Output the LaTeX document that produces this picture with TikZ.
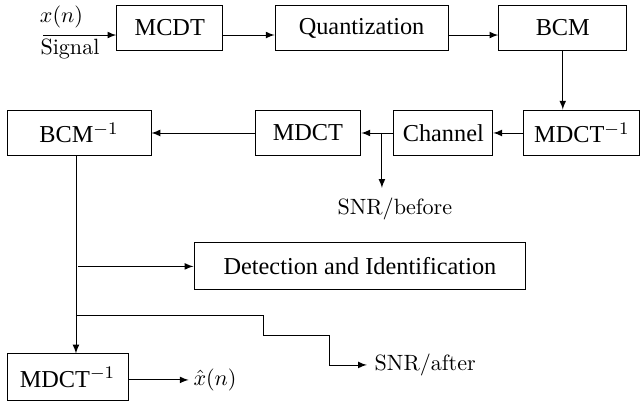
\documentclass[tikz,border=0pt]{standalone}
\usepackage{amsmath}
\usepackage{fontspec}
\newfontfamily\blocfont{Liberation Serif}
\usepackage{tikz}
\usetikzlibrary{arrows,shapes}

\begin{document}
\begin{tikzpicture}[scale=1,
	bloc/.style={rectangle,draw,minimum height=0.73cm,inner sep=0pt,
		font=\blocfont\fontsize{11}{13}\selectfont}]
	\useasboundingbox (0,0) rectangle (10.21,-6.47);
	
	% premiere ligne
	\coordinate (entree) at (0.684,-0.557);
	\node (xn) at (0.978,-0.27) {$x(n)$};
	\node (signal) at (1.113,-0.78) {Signal};
	\node[bloc,minimum width=1.685cm] (mcdt)
	at (2.70,-0.445) {MCDT};
	\node[bloc,minimum width=2.75cm] (quant)
	at (5.75,-0.445) {Quantization};
	\node[bloc,minimum width=2.035cm] (bcm)
	at (8.95,-0.445) {BCM};
	
	% deuxieme ligne
	\node[bloc,minimum width=1.844cm] (imdct1)
	at (9.254,-2.115) {MDCT$^{-1}$};
	\node[bloc,minimum width=1.574cm] (canal)
	at (7.05,-2.115) {Channel};
	\node[bloc,minimum width=1.685cm] (mdct)
	at (4.897,-2.115) {MDCT};
	\node[bloc,minimum width=2.29cm] (ibcm)
	at (1.256,-2.115) {BCM$^{-1}$};
	
	\coordinate (piquage1) at (6.074,-2.115);
	\coordinate (fin1) at (6.074,-2.989);
	\node (snravant) at (6.28,-3.32) {$\mathrm{SNR}/\mathrm{before}$};
	
	% detection et sortie
	\node[bloc,minimum width=5.279cm,minimum height=0.747cm] (detect)
	at (5.724,-4.237) {Detection and Identification};
	\node[bloc,minimum width=1.924cm,minimum height=0.747cm] (imdct2)
	at (1.073,-6.002) {MDCT$^{-1}$};
	\node[anchor=west,inner sep=2pt] (xchap) at (3.0,-6.042) {$\hat{x}(n)$};
	
	\coordinate (haut) at (1.208,-2.48);
	\coordinate (piquage2) at (1.240,-4.237);
	\coordinate (piquage3) at (1.208,-5.024);
	\coordinate (coude1) at (4.182,-5.024);
	\coordinate (coude2) at (4.182,-5.327);
	\coordinate (coude3) at (5.247,-5.327);
	\coordinate (coude4) at (5.247,-5.804);
	\node[anchor=west] (snrapres) at (5.835,-5.804) {$\mathrm{SNR}/\mathrm{after}$};
	
	\path[arrows={-latex}] (entree) edge ([yshift=-0.112cm]mcdt.west);
	\path[arrows={-latex}] ([yshift=-0.112cm]mcdt.east) edge ([yshift=-0.112cm]quant.west);
	\path[arrows={-latex}] ([yshift=-0.112cm]quant.east) edge ([yshift=-0.112cm]bcm.west);
	\path[arrows={-latex}] (bcm.south) edge (bcm.south |- imdct1.north);
	\path[arrows={-latex}] (imdct1) edge (canal);
	\path[arrows={-latex}] (canal) edge (mdct);
	\path[arrows={-latex}] (mdct) edge (ibcm);
	\path[arrows={-latex}] (piquage1) edge (fin1);
	\path[arrows={-latex}] (haut) edge (haut |- imdct2.north);
	\path[arrows={-latex}] (piquage2) edge (detect.west);
	\draw[arrows={-latex}] (piquage3) -- (coude1) -- (coude2) -- (coude3)
	-- (coude4) -- (snrapres.west);
	\path[arrows={-latex}] (imdct2.east |- xchap.west) edge (xchap.west);
\end{tikzpicture}
\end{document}
